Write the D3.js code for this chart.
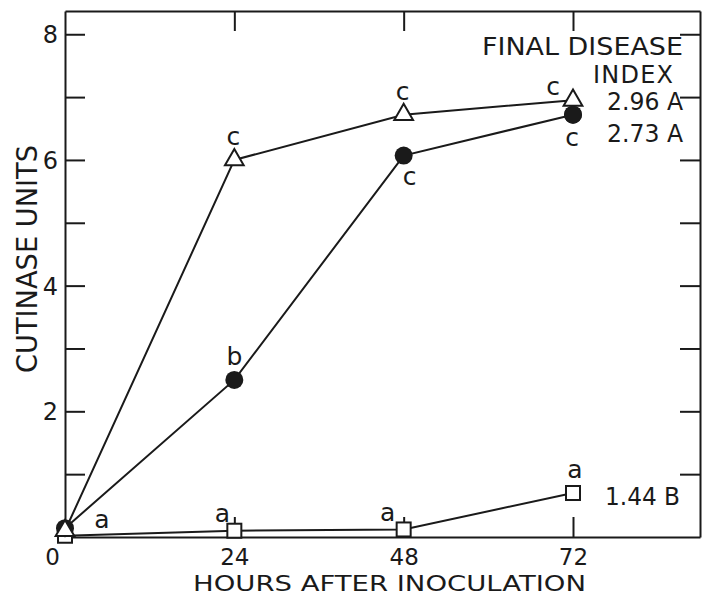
<!DOCTYPE html>
<html>
<head>
<meta charset="utf-8">
<script src="https://cdn.jsdelivr.net/npm/d3@7"></script>
<style>
  html, body { margin: 0; padding: 0; background: #fff; }
  svg { display: block; }
  text { font-family: "DejaVu Sans", sans-serif; fill: #1a1a1a; }
</style>
</head>
<body>
<svg id="chart" width="706" height="596"></svg>
<script>
// ---- data ----
const hours = [0, 24, 48, 72];
const triangleValues = [0.10, 6.00, 6.72, 6.95];
const circleValues   = [0.14, 2.50, 6.07, 6.72];
const squareValues   = [0.02, 0.10, 0.12, 0.70];
const triangleLetters = ["", "c", "c", "c"];
const circleLetters   = ["", "b", "c", "c"];
const squareLetters   = ["a", "a", "a", "a"];
const xTicks = [0, 24, 48, 72];
const yTicks = [1, 2, 3, 4, 5, 6, 7, 8];
const yLabelTicks = [2, 4, 6, 8];
const finalIndexTitle = ["FINAL DISEASE", "INDEX"];
const finalIndex = ["2.96 A", "2.73 A", "1.44 B"];
const xTitle = "HOURS  AFTER  INOCULATION";
const yTitle = "CUTINASE  UNITS";

// ---- layout ----
const svg = d3.select("#chart");
const pLeft = 65, pRight = 700, pTop = 11, pBottom = 537;
const x = d3.scaleLinear().domain([0, 90]).range([pLeft, pRight]);
const y = d3.scaleLinear().domain([0, 8.37]).range([pBottom, pTop]);
const ink = "#1a1a1a";

svg.append("rect").attr("width", 706).attr("height", 596).attr("fill", "#fff");

function styleAxis(g, size) {
  g.selectAll("path.domain").attr("stroke", ink).attr("stroke-width", 2);
  g.selectAll(".tick line").attr("stroke", ink).attr("stroke-width", 2);
  g.selectAll(".tick text").style("font-family", "'DejaVu Sans', sans-serif")
    .style("font-size", (size || 24) + "px").attr("fill", ink);
}

// left axis
svg.append("g").attr("transform", `translate(${pLeft},0)`)
  .call(d3.axisLeft(y).tickValues(yTicks).tickSizeInner(-20).tickSizeOuter(0).tickPadding(7)
    .tickFormat(d => yLabelTicks.includes(d) ? d : ""))
  .call(styleAxis)
  .selectAll(".tick text").attr("dy", "0.36em");

// right axis
svg.append("g").attr("transform", `translate(${pRight},0)`)
  .call(d3.axisRight(y).tickValues(yTicks).tickSizeInner(-20).tickSizeOuter(0).tickFormat(""))
  .call(styleAxis);

// top axis
svg.append("g").attr("transform", `translate(0,${pTop})`)
  .call(d3.axisTop(x).tickValues([24, 48, 72]).tickSizeInner(-20).tickSizeOuter(0).tickFormat(""))
  .call(styleAxis);

// bottom axis
const bx = svg.append("g").attr("transform", `translate(0,${pBottom})`)
  .call(d3.axisBottom(x).tickValues(xTicks).tickSizeInner(-20).tickSizeOuter(0).tickPadding(12))
  .call(g => styleAxis(g, 23));
bx.selectAll(".tick").filter(d => d === 0).select("text").attr("dx", -13);
bx.selectAll(".tick").filter(d => d === 0).select("line").remove();

// titles
svg.append("text").attr("x", 193).attr("y", 590.5)
  .attr("textLength", 393).attr("lengthAdjust", "spacingAndGlyphs")
  .style("font-size", "21px").text(xTitle);
svg.append("text").attr("transform", "translate(37,373) rotate(-90)")
  .attr("textLength", 228).attr("lengthAdjust", "spacingAndGlyphs")
  .style("font-size", "28px").text(yTitle);

// annotations: final disease index
svg.append("text").attr("x", 482).attr("y", 55).attr("textLength", 201)
  .attr("lengthAdjust", "spacingAndGlyphs").style("font-size", "24px").text(finalIndexTitle[0]);
svg.append("text").attr("x", 593).attr("y", 83).attr("textLength", 80)
  .attr("lengthAdjust", "spacing").style("font-size", "24px").text(finalIndexTitle[1]);
svg.append("text").attr("x", 607).attr("y", 110).attr("textLength", 76)
  .attr("lengthAdjust", "spacingAndGlyphs").style("font-size", "24px").text(finalIndex[0]);
svg.append("text").attr("x", 607).attr("y", 142).attr("textLength", 76)
  .attr("lengthAdjust", "spacingAndGlyphs").style("font-size", "24px").text(finalIndex[1]);
svg.append("text").attr("x", 605).attr("y", 505).attr("textLength", 75)
  .attr("lengthAdjust", "spacingAndGlyphs").style("font-size", "24px").text(finalIndex[2]);

// lines
const line = d3.line().x((d, i) => x(hours[i])).y(d => y(d));
[squareValues, circleValues, triangleValues].forEach(vals => {
  svg.append("path").datum(vals).attr("d", line)
    .attr("fill", "none").attr("stroke", ink).attr("stroke-width", 2);
});

// markers
const sq = 14;
svg.append("g").selectAll("rect").data(squareValues).join("rect")
  .attr("x", (d, i) => x(hours[i]) - sq / 2).attr("y", d => y(d) - sq / 2)
  .attr("width", sq).attr("height", sq)
  .attr("fill", "#fff").attr("stroke", ink).attr("stroke-width", 2);

svg.append("g").selectAll("circle").data(circleValues).join("circle")
  .attr("cx", (d, i) => x(hours[i])).attr("cy", d => y(d)).attr("r", 9)
  .attr("fill", ink);

svg.append("g").selectAll("path").data(triangleValues).join("path")
  .attr("d", d3.symbol(d3.symbolTriangle, 152))
  .attr("transform", (d, i) => `translate(${x(hours[i])},${y(d)})`)
  .attr("fill", "#fff").attr("stroke", ink).attr("stroke-width", 2);

// circle at 72 h sits over the triangle
svg.append("circle").attr("cx", x(hours[3])).attr("cy", y(circleValues[3])).attr("r", 9).attr("fill", ink);

// significance letters
const triOff = [[0, 0], [-1, -15], [-1, -15], [-20, -5]];
const cirOff = [[0, 0], [0, -15], [6, 29], [-1, 31]];
const sqOff  = [[37, -8], [-12, -9], [-16, -8], [2, -15]];
function letters(vals, lets, offs) {
  svg.append("g").selectAll("text").data(vals).join("text")
    .attr("x", (d, i) => x(hours[i]) + offs[i][0])
    .attr("y", (d, i) => y(d) + offs[i][1])
    .attr("text-anchor", "middle").style("font-size", "25px")
    .text((d, i) => lets[i]);
}
letters(triangleValues, triangleLetters, triOff);
letters(circleValues, circleLetters, cirOff);
letters(squareValues, squareLetters, sqOff);
</script>
</body>
</html>
